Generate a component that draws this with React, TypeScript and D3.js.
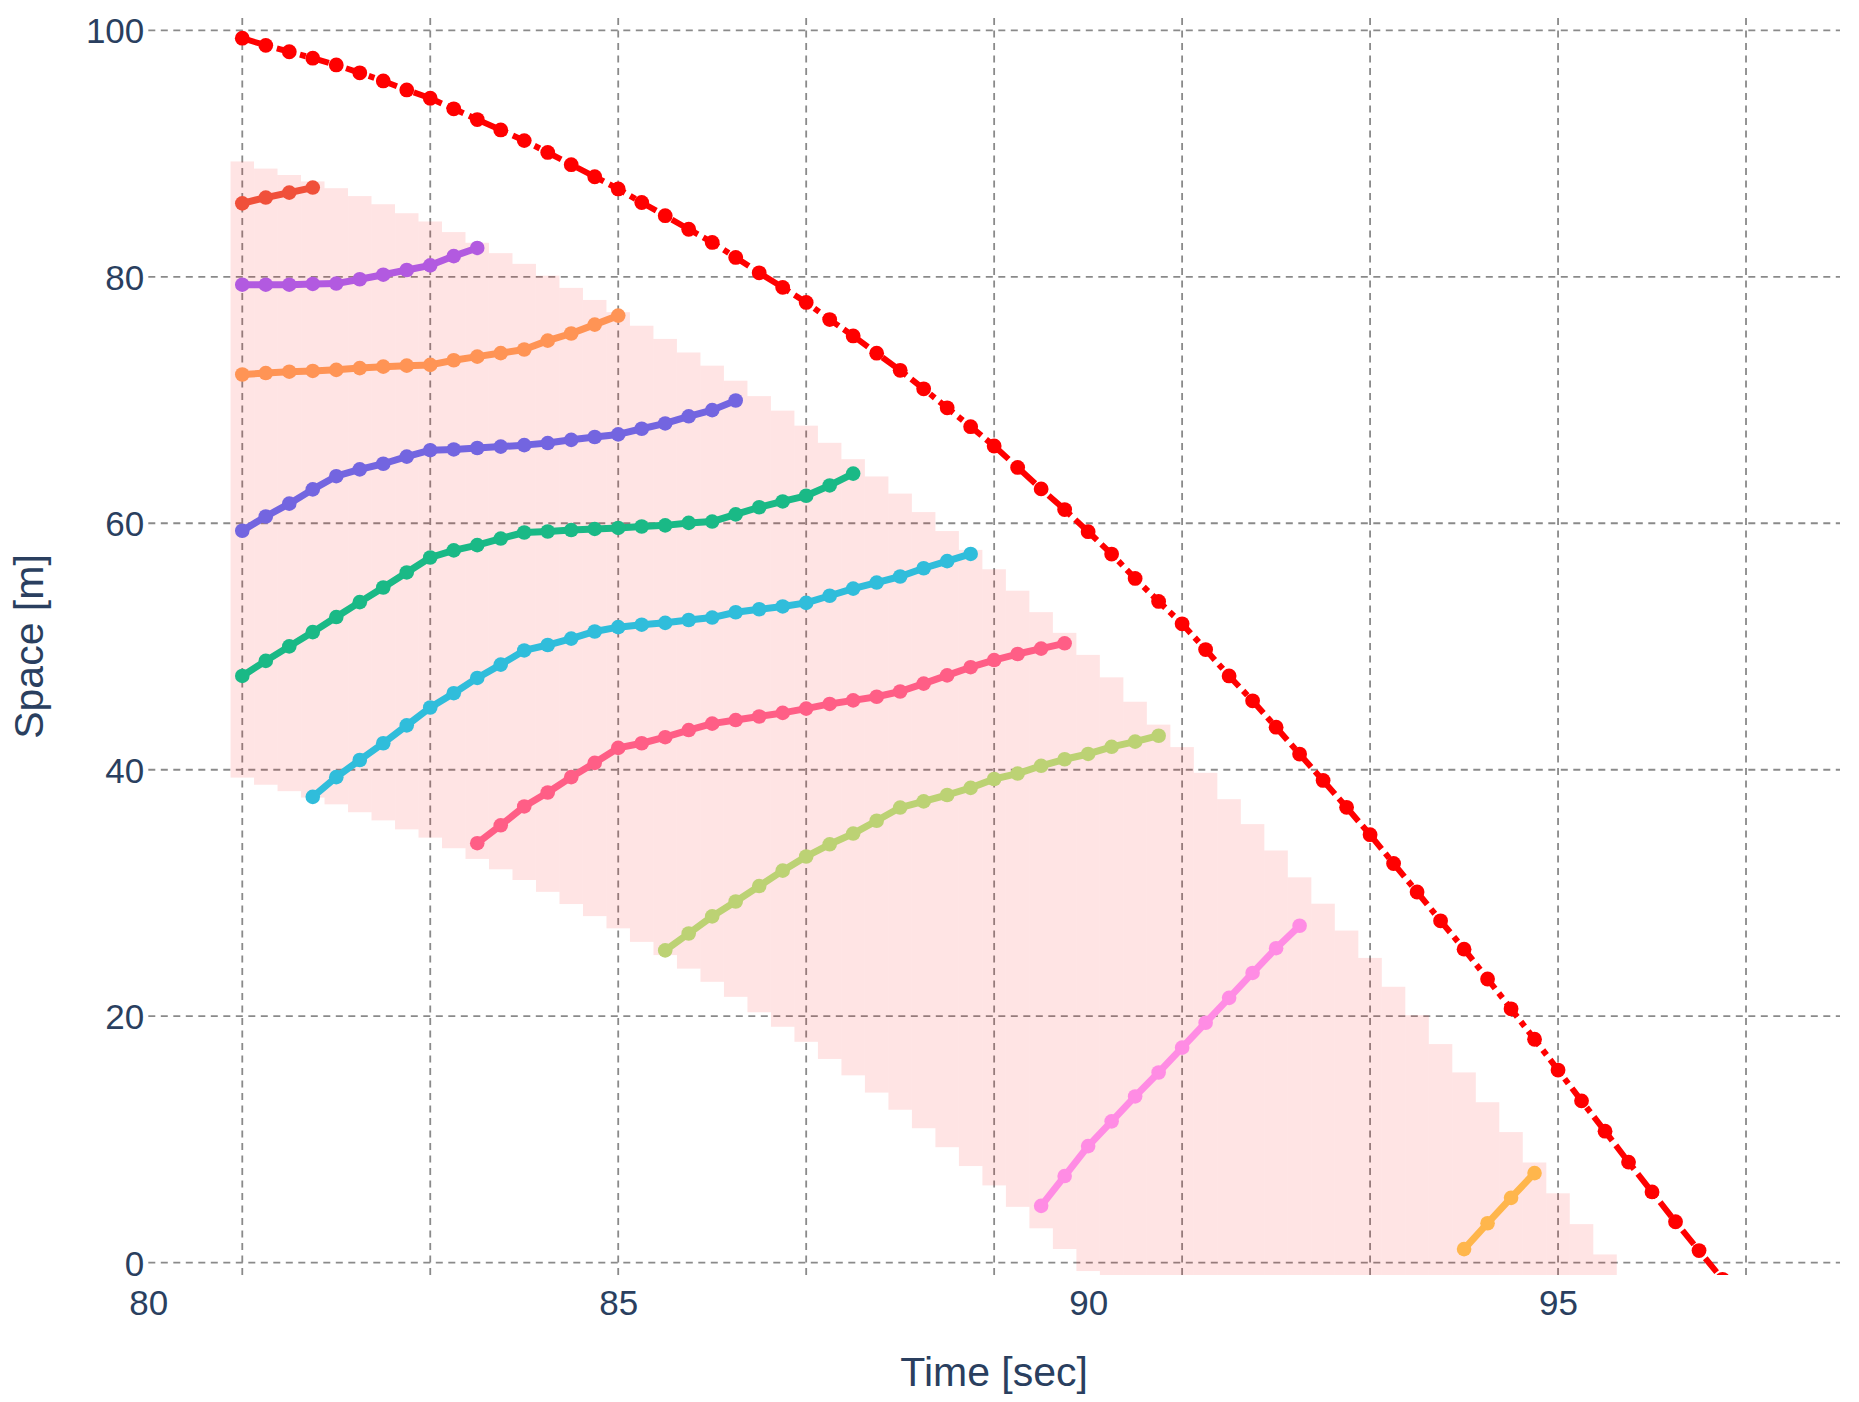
import React, { useEffect, useRef } from 'react';
import * as d3 from 'd3';

// sampling instants [sec]
const time = [
  81, 81.25, 81.5, 81.75, 82, 82.25, 82.5, 82.75, 83, 83.25, 83.5, 83.75,
  84, 84.25, 84.5, 84.75, 85, 85.25, 85.5, 85.75, 86, 86.25, 86.5, 86.75,
  87, 87.25, 87.5, 87.75, 88, 88.25, 88.5, 88.75, 89, 89.25, 89.5, 89.75,
  90, 90.25, 90.5, 90.75, 91, 91.25, 91.5, 91.75, 92, 92.25, 92.5, 92.75,
  93, 93.25, 93.5, 93.75, 94, 94.25, 94.5, 94.75, 95, 95.25, 95.5, 95.75,
  96, 96.25, 96.5, 96.75,
];

// red dash-dot trajectory
const leader = [
  99.36, 98.78, 98.26, 97.74, 97.19, 96.55, 95.89, 95.16, 94.49, 93.63, 92.76, 91.92,
  91.05, 90.09, 89.1, 88.12, 87.13, 86.03, 84.96, 83.86, 82.79, 81.57, 80.32, 79.14,
  77.92, 76.53, 75.2, 73.8, 72.41, 70.91, 69.37, 67.84, 66.27, 64.53, 62.79, 61.11,
  59.32, 57.5, 55.52, 53.66, 51.84, 49.75, 47.61, 45.59, 43.45, 41.27, 39.13, 36.95,
  34.73, 32.39, 30.08, 27.74, 25.44, 23.02, 20.6, 18.13, 15.63, 13.13, 10.67, 8.16,
  5.74, 3.32, 0.98, -1.35,
];

// shaded band below the red line: from leader - bandFar to leader - bandNear
const bandNear = 10;
const bandFar = 60;
const bandWidth = 0.25;

const car1 = [85.96, 86.43, 86.83, 87.24];
const car2 = [79.36, 79.36, 79.36, 79.42, 79.45, 79.8, 80.17, 80.55, 80.93, 81.68, 82.34];
const car3 = [
  72.07, 72.19, 72.3, 72.36, 72.45, 72.59, 72.71, 72.79, 72.85, 73.23, 73.52, 73.81,
  74.1, 74.82, 75.4, 76.12, 76.85,
];
const car4 = [
  59.39, 60.55, 61.59, 62.75, 63.82, 64.37, 64.83, 65.41, 65.93, 65.99, 66.11, 66.22,
  66.34, 66.51, 66.77, 67.0, 67.21, 67.67, 68.1, 68.68, 69.18, 69.96,
];
const car5 = [
  47.61, 48.83, 50.01, 51.17, 52.39, 53.6, 54.79, 56.01, 57.22, 57.8, 58.23, 58.76,
  59.25, 59.33, 59.45, 59.54, 59.62, 59.74, 59.83, 60.03, 60.14, 60.72, 61.3, 61.77,
  62.23, 63.07, 64.03,
];
const car6 = [
  37.8, 39.4, 40.79, 42.15, 43.6, 45.05, 46.21, 47.45, 48.53, 49.68, 50.12, 50.64,
  51.22, 51.57, 51.77, 51.92, 52.15, 52.35, 52.78, 53.02, 53.25, 53.54, 54.12, 54.7,
  55.19, 55.68, 56.35, 56.93, 57.51,
];
const car7 = [
  34.04, 35.49, 37.02, 38.15, 39.4, 40.56, 41.77, 42.15, 42.64, 43.22, 43.74, 44.03,
  44.32, 44.61, 44.96, 45.34, 45.63, 45.92, 46.35, 46.99, 47.66, 48.32, 48.9, 49.39,
  49.83, 50.26,
];
const car8 = [
  25.34, 26.71, 28.1, 29.31, 30.56, 31.81, 32.96, 33.95, 34.82, 35.86, 36.93, 37.43,
  37.95, 38.53, 39.25, 39.69, 40.32, 40.85, 41.28, 41.86, 42.28, 42.76,
];
const car9 = [4.61, 7.03, 9.46, 11.47, 13.49, 15.43, 17.45, 19.47, 21.49, 23.51, 25.52, 27.34];
const car10 = [1.1, 3.2, 5.26, 7.27];

const cars = [car1, car2, car3, car4, car5, car6, car7, car8, car9, car10];
const carStart = [81, 81, 81, 81, 81, 81.75, 83.5, 85.5, 89.5, 94];
const carColors = [
  '#F0503A', '#B25AE0', '#FF9455', '#7365E0', '#1AB986',
  '#30BDDB', '#FF5E86', '#BCD274', '#FF8CE4', '#FFB64C',
];

const xTicks = [80, 85, 90, 95];
const xGrid = [81, 83, 85, 87, 89, 91, 93, 95, 97];
const yTicks = [0, 20, 40, 60, 80, 100];

const width = 1859;
const height = 1402;
const margin = { top: 18, right: 19, bottom: 127, left: 148.3 };
const font = '"Liberation Sans", Arial, sans-serif';
const textColor = '#2a3f5f';

type Pt = { t: number; s: number };

const App: React.FC = () => {
  const svgRef = useRef<SVGSVGElement>(null);

  useEffect(() => {
    if (!svgRef.current) return;
    document.body.style.margin = '0';

    const svg = d3.select(svgRef.current);
    svg.selectAll('*').remove();

    const x = d3.scaleLinear().domain([80, 98]).range([margin.left, width - margin.right]);
    const y = d3.scaleLinear().domain([-1, 101]).range([height - margin.bottom, margin.top]);

    const [x0, x1] = x.range();
    const [yb, yt] = y.range();

    svg.append('defs').append('clipPath').attr('id', 'plot-clip')
      .append('rect')
      .attr('x', x0).attr('y', yt)
      .attr('width', x1 - x0).attr('height', yb - yt);

    // Grid
    const grid = svg.append('g')
      .attr('stroke', '#8a8a8a')
      .attr('stroke-width', 1.8)
      .attr('stroke-dasharray', '7,5.5');

    grid.selectAll('line.h')
      .data(yTicks)
      .join('line')
      .attr('class', 'h')
      .attr('x1', x0).attr('x2', x1)
      .attr('y1', d => y(d)).attr('y2', d => y(d));

    grid.selectAll('line.v')
      .data(xGrid)
      .join('line')
      .attr('class', 'v')
      .attr('y1', yt).attr('y2', yb)
      .attr('x1', d => x(d)).attr('x2', d => x(d));

    // Tick labels
    const xAxis = svg.append('g')
      .attr('transform', `translate(0, ${yb})`)
      .call(d3.axisBottom(x).tickValues(xTicks).tickSize(0).tickPadding(15).tickFormat(d3.format('d')));
    xAxis.select('.domain').remove();
    xAxis.selectAll('text')
      .attr('font-family', font)
      .attr('font-size', 35)
      .attr('fill', textColor);

    const yAxis = svg.append('g')
      .attr('transform', `translate(${x0}, 0)`)
      .call(d3.axisLeft(y).tickValues(yTicks).tickSize(0).tickPadding(4).tickFormat(d3.format('d')));
    yAxis.select('.domain').remove();
    yAxis.selectAll('text')
      .attr('font-family', font)
      .attr('font-size', 35)
      .attr('dy', '0.36em')
      .attr('fill', textColor);

    // Axis titles
    svg.append('text')
      .attr('x', (x0 + x1) / 2)
      .attr('y', 1386)
      .attr('text-anchor', 'middle')
      .attr('font-family', font)
      .attr('font-size', 41)
      .attr('fill', textColor)
      .text('Time [sec]');

    svg.append('text')
      .attr('transform', `translate(43, ${(yt + yb) / 2}) rotate(-90)`)
      .attr('text-anchor', 'middle')
      .attr('font-family', font)
      .attr('font-size', 41)
      .attr('fill', textColor)
      .text('Space [m]');

    const plot = svg.append('g').attr('clip-path', 'url(#plot-clip)');

    // Shaded band
    plot.append('g')
      .selectAll('rect')
      .data(time.map((t, i) => ({ t, s: leader[i] })))
      .join('rect')
      .attr('x', d => x(d.t - bandWidth / 2))
      .attr('width', d => x(d.t + bandWidth / 2) - x(d.t - bandWidth / 2))
      .attr('y', d => y(d.s - bandNear))
      .attr('height', d => y(d.s - bandFar) - y(d.s - bandNear))
      .attr('fill', '#ff0000')
      .attr('fill-opacity', 0.105);

    const line = d3.line<Pt>().x(d => x(d.t)).y(d => y(d.s));

    // Red dash-dot line
    const leadPts: Pt[] = time.map((t, i) => ({ t, s: leader[i] }));
    plot.append('path')
      .datum(leadPts)
      .attr('fill', 'none')
      .attr('stroke', '#ff0000')
      .attr('stroke-width', 6)
      .attr('stroke-dasharray', '18,6,6,6')
      .attr('d', line);
    plot.append('g')
      .selectAll('circle')
      .data(leadPts)
      .join('circle')
      .attr('cx', d => x(d.t))
      .attr('cy', d => y(d.s))
      .attr('r', 7.4)
      .attr('fill', '#ff0000');

    // Follower trajectories
    cars.forEach((vals, k) => {
      const start = time.indexOf(carStart[k]);
      const pts: Pt[] = vals.map((s, i) => ({ t: time[start + i], s }));
      const g = plot.append('g');
      g.append('path')
        .datum(pts)
        .attr('fill', 'none')
        .attr('stroke', carColors[k])
        .attr('stroke-width', 7)
        .attr('stroke-linejoin', 'round')
        .attr('d', line);
      g.selectAll('circle')
        .data(pts)
        .join('circle')
        .attr('cx', d => x(d.t))
        .attr('cy', d => y(d.s))
        .attr('r', 7.3)
        .attr('fill', carColors[k]);
    });
  }, []);

  return (
    <svg
      ref={svgRef}
      width={width}
      height={height}
      style={{ position: 'absolute', left: 0, top: 0, background: '#fff', display: 'block' }}
    />
  );
};

export default App;
